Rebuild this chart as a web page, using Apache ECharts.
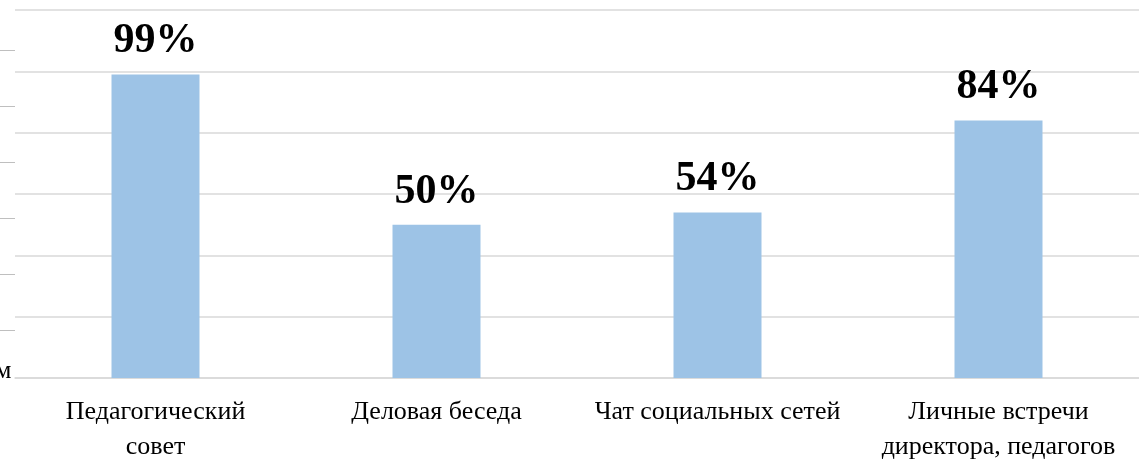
<!DOCTYPE html>
<html>
<head>
<meta charset="utf-8">
<script src="https://cdn.jsdelivr.net/npm/echarts@6/dist/echarts.min.js"></script>
<style>
  html, body { margin: 0; padding: 0; background: #fff; }
  #chart { width: 1139px; height: 462px; }
</style>
</head>
<body>
<div id="chart"></div>
<script>
  // категории и значения (%)
  var categories = [
    'Педагогический\nсовет',
    'Деловая беседа',
    'Чат социальных сетей',
    'Личные встречи\nдиректора, педагогов'
  ];
  var values = [99, 50, 54, 84];
  var yMax = 120;
  var yStep = 20;

  var chart = echarts.init(document.getElementById('chart'));

  // обрезки соседней диаграммы у левого края
  var stubs = [50.5, 106.5, 162.5, 218.5, 274.5, 330.5].map(function (y) {
    return {
      type: 'line',
      shape: { x1: 0, y1: y, x2: 15, y2: y },
      style: { stroke: '#bfbfbf', lineWidth: 1 }
    };
  });
  stubs.push({
    type: 'text',
    left: -5,
    top: 358,
    style: { text: 'м', font: '26px "Liberation Serif"', fill: '#000' }
  });

  var options = {
    animation: false,
    backgroundColor: '#fff',
    grid: {
      left: 15,
      right: 0,
      top: 10,
      bottom: 84,
      containLabel: false,
      outerBoundsMode: 'none'
    },
    xAxis: {
      type: 'category',
      data: categories,
      axisTick: { show: false },
      axisLine: {
        show: true,
        lineStyle: { color: '#d9d9d9', width: 1.5 }
      },
      axisLabel: {
        interval: 0,
        margin: 17,
        fontFamily: 'Liberation Serif',
        fontSize: 26,
        lineHeight: 35,
        color: '#000'
      }
    },
    yAxis: {
      type: 'value',
      min: 0,
      max: yMax,
      interval: yStep,
      axisLabel: { show: false },
      axisLine: { show: false },
      axisTick: { show: false },
      splitLine: {
        show: true,
        lineStyle: { color: '#d9d9d9', width: 1.5 }
      }
    },
    series: [{
      type: 'bar',
      data: values,
      barWidth: 88,
      itemStyle: { color: '#9dc3e6' },
      label: {
        show: true,
        position: 'top',
        distance: 12,
        formatter: '{c}%',
        fontFamily: 'Liberation Serif',
        fontWeight: 'bold',
        fontSize: 42,
        color: '#000'
      }
    }],
    graphic: stubs
  };

  chart.setOption(options);
</script>
</body>
</html>
